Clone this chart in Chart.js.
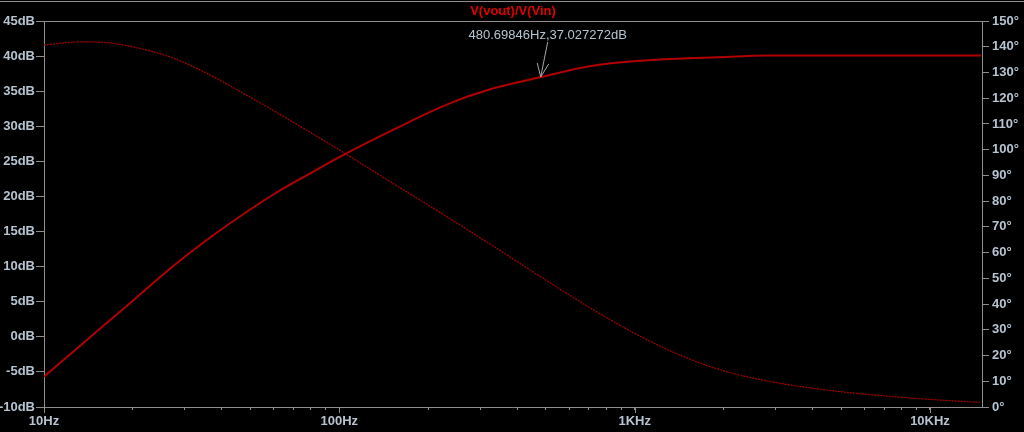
<!DOCTYPE html>
<html>
<head>
<meta charset="utf-8">
<title>V(vout)/V(Vin)</title>
<script src="https://cdn.jsdelivr.net/npm/chart.js@4/dist/chart.umd.min.js"></script>
<style>
    html, body { margin: 0; padding: 0; background: #000; }
    canvas { display: block; }
</style>
</head>
<body>
<canvas id="bodeChart" width="1024" height="432"></canvas>
<script>
// magnitude trace (Hz / dB)
const magFreqs = [10, 12.47, 16.18, 19.94, 27.2, 38.2, 59.4, 81.1, 100, 155.7, 236.3, 322, 483, 703,
    1039, 1890, 2870, 14900];
const magDb = [-5.68, -2.22, 1.85, 5.10, 9.99, 14.75, 20.21, 23.48, 25.62, 29.71, 33.27, 35.24, 37.02, 38.56,
    39.34, 39.83, 40.08, 40.08];

// phase trace (Hz / degrees)
const phaseFreqs = [10, 13.45, 16.3, 21, 27.2, 35.4, 45.8, 59.4, 77.4, 100, 147.6, 218, 322, 476, 703,
    1039, 1345, 1760, 2270, 2943, 3820, 4950, 6420, 8330, 10810, 14750];
const phaseDeg = [140.7, 141.9, 141.6, 139.4, 135.7, 129.8, 122.8, 115.4, 107.6, 99.9, 87.8, 75.8, 63.5, 50.9, 38.7,
    27.6, 21.4, 16.1, 12.4, 9.7, 7.6, 6.0, 4.7, 3.6, 2.7, 1.8];

// axis ticks
const xDecades = [10, 100, 1000, 10000];
const xDecadeLabels = ["10Hz", "100Hz", "1KHz", "10KHz"];
const cursorFreq = 480.69846;
const cursorDb = 37.027272;
const cursorText = "480.69846Hz,37.027272dB";
const traceTitle = "V(vout)/V(Vin)";

const AXIS = "#8e8e8e";
const LABEL = "#b6c3d0";
const FONT = "'Liberation Sans', Arial, sans-serif";

const xTicks = [];
xDecades.forEach(d => {
    for (let m = 1; m <= 9; m++) {
        if (d * m <= 15000) xTicks.push(d * m);
    }
});

const toPoints = (xs, ys) => xs.map((f, i) => ({ x: f, y: ys[i] }));

const bodePlugin = {
    id: "bodeDecor",
    afterDraw(chart) {
        const ctx = chart.ctx;
        const area = chart.chartArea;
        const xs = chart.scales.x;
        const y = chart.scales.y;

        ctx.save();

        // window line and plot frame
        ctx.strokeStyle = AXIS;
        ctx.lineWidth = 1;
        ctx.beginPath();
        ctx.moveTo(0, 1.5);
        ctx.lineTo(chart.width, 1.5);
        ctx.moveTo(area.left, area.top + 0.5);
        ctx.lineTo(area.right, area.top + 0.5);
        ctx.stroke();

        // longer marks at decades
        ctx.beginPath();
        xDecades.forEach(d => {
            const px = Math.round(xs.getPixelForValue(d)) + 0.5;
            ctx.moveTo(px, area.bottom);
            ctx.lineTo(px, area.bottom + 6);
        });
        ctx.stroke();

        // title
        ctx.fillStyle = "#e00000";
        ctx.font = "bold 13px " + FONT;
        ctx.textAlign = "center";
        ctx.textBaseline = "middle";
        ctx.fillText(traceTitle, (area.left + area.right) / 2, 11);

        // cursor annotation
        const tx = xs.getPixelForValue(cursorFreq);
        const ty = y.getPixelForValue(cursorDb);
        ctx.fillStyle = LABEL;
        ctx.font = "13px " + FONT;
        ctx.fillText(cursorText, tx + 7, ty - 42);

        ctx.strokeStyle = "#a8a8a8";
        ctx.beginPath();
        ctx.moveTo(tx + 7, ty - 35);
        ctx.lineTo(tx, ty);
        ctx.moveTo(tx - 3.5, ty - 14);
        ctx.lineTo(tx, ty);
        ctx.lineTo(tx + 8, ty - 13);
        ctx.stroke();

        ctx.restore();
    }
};

new Chart(document.getElementById("bodeChart"), {
    type: "line",
    data: {
        datasets: [{
            label: "phase",
            data: toPoints(phaseFreqs, phaseDeg),
            yAxisID: "y1",
            borderColor: "#a80000",
            borderWidth: 1.2,
            borderDash: [2, 1],
            pointRadius: 0,
            cubicInterpolationMode: "monotone"
        }, {
            label: "magnitude",
            data: toPoints(magFreqs, magDb),
            yAxisID: "y",
            borderColor: "#b00000",
            borderWidth: 2,
            pointRadius: 0,
            cubicInterpolationMode: "monotone"
        }]
    },
    options: {
        responsive: false,
        animation: false,
        devicePixelRatio: 1,
        layout: { padding: { top: 21, left: 0, right: 0, bottom: 0 } },
        plugins: {
            legend: { display: false },
            tooltip: { enabled: false },
            title: { display: false }
        },
        scales: {
            x: {
                type: "logarithmic",
                min: 10,
                max: 15000,
                afterBuildTicks(axis) {
                    axis.ticks = xTicks.map(v => ({ value: v }));
                },
                afterFit(axis) { axis.height = 25; },
                grid: { drawOnChartArea: false, tickLength: 3, color: AXIS },
                border: { color: AXIS },
                ticks: {
                    autoSkip: false,
                    maxRotation: 0,
                    padding: 4,
                    color: LABEL,
                    font: { family: FONT, size: 13, weight: "bold" },
                    callback(value) {
                        const i = xDecades.indexOf(value);
                        return i >= 0 ? xDecadeLabels[i] : "";
                    }
                }
            },
            y: {
                position: "left",
                min: -10,
                max: 45,
                afterFit(axis) { axis.width = 44; },
                grid: { drawOnChartArea: false, tickLength: 8, color: AXIS },
                border: { color: AXIS },
                ticks: {
                    stepSize: 5,
                    padding: 1,
                    color: LABEL,
                    font: { family: FONT, size: 13, weight: "bold" },
                    callback: v => v + "dB"
                }
            },
            y1: {
                position: "right",
                min: 0,
                max: 150,
                afterFit(axis) { axis.width = 42; },
                grid: { drawOnChartArea: false, tickLength: 7, color: AXIS },
                border: { color: AXIS },
                ticks: {
                    stepSize: 10,
                    padding: 3,
                    color: LABEL,
                    font: { family: FONT, size: 13, weight: "bold" },
                    callback: v => v + "°"
                }
            }
        }
    },
    plugins: [bodePlugin]
});
</script>
</body>
</html>
